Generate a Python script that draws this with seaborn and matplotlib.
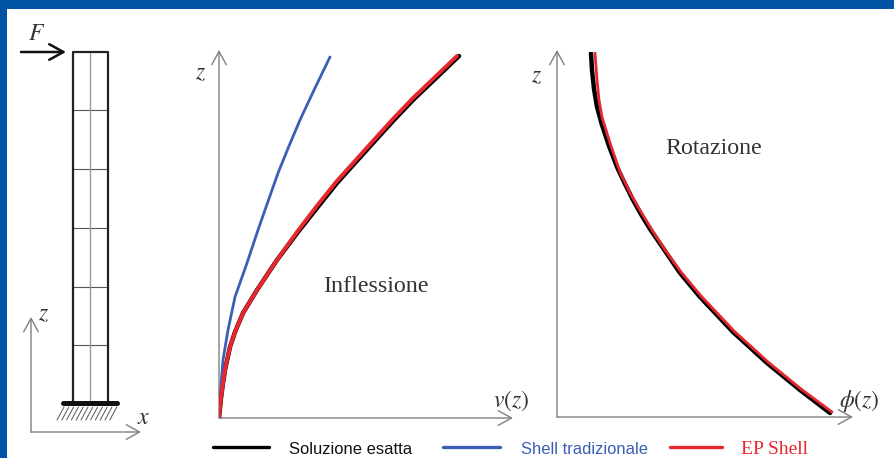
import matplotlib
matplotlib.use('Agg')
import matplotlib.pyplot as plt
import seaborn as sns

W, H = 895, 458

# bending panel, values are px from the axis origin
v_exact = [0, 2, 4, 6, 11, 16, 24, 38, 58, 79, 98, 118, 136, 154, 174, 194, 216, 240]
z_exact = [0, 20, 35, 48, 71, 86, 105, 128, 158, 186, 210, 235, 255, 275, 297, 318, 339, 362]
v_trad = [0, 1, 2, 4, 9, 16, 28, 39, 59, 70, 81, 96, 111]
z_trad = [0, 11, 33, 58, 88, 121, 155, 188, 245, 272, 298, 330, 361]
v_ep = [0, 2, 4, 6, 11, 16, 24, 38, 58, 78, 97, 117, 135, 153, 173, 193, 215, 238]
z_ep = [0, 20, 35, 48, 71, 86, 105, 128, 158, 186, 211, 236, 256, 276, 298, 319, 340, 362]

# rotation panel
phi_exact = [34, 35, 37, 40, 45, 52, 60, 68, 76, 85, 93, 106, 123, 143, 176, 210, 243, 273]
zr_exact = [364, 347, 328, 310, 292, 271, 250, 233, 217, 201, 188, 169, 144, 120, 85, 54, 27, 4]
phi_ep = [38, 40, 42, 45, 53, 63, 73, 84, 95, 108, 124, 144, 177, 211, 244, 275]
zr_ep = [364, 337, 317, 300, 274, 245, 224, 205, 187, 167, 145, 121, 86, 55, 28, 5]

col_exact = '#000000'
col_trad = '#3a5fb5'
col_ep = '#e8262e'
col_axis = '#808080'

sns.set_style('white')
plt.rcParams['mathtext.fontset'] = 'stix'
plt.rcParams['font.family'] = ['Liberation Serif', 'DejaVu Serif']

fig = plt.figure(figsize=(W / 100, H / 100), dpi=100, facecolor='#0054a6')


def px_axes(x0, y0, x1, y1):
    return fig.add_axes([x0 / W, 1 - y1 / H, (x1 - x0) / W, (y1 - y0) / H])


# white page, coordinates in px
bg = fig.add_axes([0, 0, 1, 1])
bg.set_xlim(0, W)
bg.set_ylim(H, 0)
bg.axis('off')
bg.add_patch(plt.Rectangle((7, 9), W - 7, H - 9, color='white', lw=0))


def arrow(x0, y0, x1, y1, color=col_axis, lw=1, ms=16):
    bg.annotate('', xy=(x1, y1), xytext=(x0, y0),
                arrowprops=dict(arrowstyle='->,head_length=0.6,head_width=0.33', color=color,
                                lw=lw, mutation_scale=ms, shrinkA=0, shrinkB=0))


# column
for y in [110, 169, 228, 287, 345]:
    bg.plot([73, 108], [y, y], color='#555555', lw=0.8)
bg.plot([90, 90], [52, 403], color='#999999', lw=1)
bg.plot([73, 73, 108, 108], [403, 52, 52, 403], color='#222222', lw=1.6)
bg.plot([63, 117], [403, 403], color='#111111', lw=3.6)
for i in range(12):
    bg.plot([64 + i * 4.8, 57 + i * 4.8], [407, 420], color='#555555', lw=0.7)
arrow(21, 52, 66, 52, color='#111111', lw=1.8, ms=17)
arrow(31, 432, 31, 317)
arrow(31, 432, 141, 432)

# curves
ax1 = px_axes(219, 52, 480, 418)
sns.lineplot(x=v_exact, y=z_exact, sort=False, estimator=None, color=col_exact, lw=3.2, ax=ax1)
sns.lineplot(x=v_trad, y=z_trad, sort=False, estimator=None, color=col_trad, lw=2, ax=ax1)
sns.lineplot(x=v_ep, y=z_ep, sort=False, estimator=None, color=col_ep, lw=2.8, ax=ax1)
ax1.set_xlim(0, 261)
ax1.set_ylim(0, 366)

ax2 = px_axes(557, 52, 840, 417)
sns.lineplot(x=phi_exact, y=zr_exact, sort=False, estimator=None, color=col_exact, lw=3.2, ax=ax2)
sns.lineplot(x=phi_ep, y=zr_ep, sort=False, estimator=None, color=col_ep, lw=2, ax=ax2)
ax2.set_xlim(0, 283)
ax2.set_ylim(0, 365)

for ax in [ax1, ax2]:
    ax.axis('off')
    ax.patch.set_alpha(0)

arrow(219, 418, 219, 50)
arrow(219, 418, 513, 418)
arrow(557, 417, 557, 50)
arrow(557, 417, 853, 417)

# labels
txt = '#333333'
bg.text(37, 35, '$F$', fontsize=17, color=txt, ha='center', va='center')
bg.text(44, 315, '$z$', fontsize=17, color=txt, ha='center', va='center')
bg.text(144, 418, '$x$', fontsize=17, color=txt, ha='center', va='center')
bg.text(201, 74, '$z$', fontsize=17, color=txt, ha='center', va='center')
bg.text(537, 77, '$z$', fontsize=17, color=txt, ha='center', va='center')
bg.text(511, 401, '$v(z)$', fontsize=17, color=txt, ha='center', va='center')
bg.text(859, 401, r'$\phi(z)$', fontsize=17, color=txt, ha='center', va='center')
bg.text(376, 286, 'Inflessione', fontsize=17.3, color=txt, ha='center', va='center')
bg.text(714, 148, 'Rotazione', fontsize=17.2, color=txt, ha='center', va='center')

# legend row
bg.plot([213, 269], [447, 447], color=col_exact, lw=2.4)
bg.plot([443, 500], [447, 447], color=col_trad, lw=2.4)
bg.plot([670, 722], [447, 447], color=col_ep, lw=2.4)
bg.text(289, 450, 'Soluzione esatta', fontsize=11.9, family='Liberation Sans', color='#111111', va='center')
bg.text(521, 450, 'Shell tradizionale', fontsize=11.9, family='Liberation Sans', color=col_trad, va='center')
bg.text(741, 450, 'EP Shell', fontsize=14, color=col_ep, va='center')

fig.savefig('out.png', dpi=100, facecolor=fig.get_facecolor())
